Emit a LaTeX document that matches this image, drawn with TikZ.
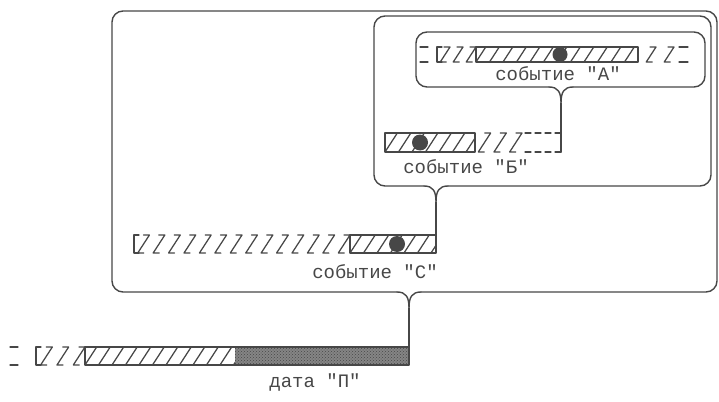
\documentclass[tikz,border=0pt]{standalone}
\usepackage{fontspec}
\setmonofont{Liberation Mono}
\usetikzlibrary{positioning, patterns}
\definecolor{ink}{gray}{0.28}
\definecolor{stip}{gray}{0.52}

% slashes inside a solid bar: x1, x2, top, bottom
\newcommand{\hatch}[4]{%
  \begin{scope}
    \clip (#1,#3) rectangle (#2,#4);
    \pgfmathtruncatemacro\hn{(#2-#1)/13.5+1}
    \foreach \k in {-1,...,\hn}
      \draw[bar] ({#1+\k*13.5},#4) -- ({#1+\k*13.5+0.65*(#4-#3)},#3);
  \end{scope}}
% broken slashes of an uncertain stretch: x1, x2, top, bottom
\newcommand{\dashhatch}[4]{%
  \pgfmathtruncatemacro\zn{round((#2-#1)/15)}
  \foreach \k in {1,...,\zn}{
    \pgfmathsetmacro\zx{#1+\k*(#2-#1)/\zn}
    \draw[bar] (\zx-6,#3) -- (\zx,#3) -- ({\zx-0.65*(#4-#3)},#4) -- ({\zx-0.65*(#4-#3)+6},#4);
  }}
% open end of a bar: x, top, bottom
\newcommand{\bracket}[3]{\draw[bar] (#1+5,#2) -- (#1,#2) -- (#1,#3) -- (#1+5,#3);}
% rounded frame with a pointed tail: name, left, top, right, bottom, tail x
\newcommand{\callout}[6]{%
  \draw[box, rounded corners=11pt] (#6-12,#5) -- (#2,#5) -- (#2,#3) -- (#4,#3) -- (#4,#5) -- (#6+12,#5);
  \draw[box] (#6-12,#5) .. controls (#6-3,#5) and (#6,#5+5) .. (#6,#5+16)
    .. controls (#6,#5+5) and (#6+3,#5) .. (#6+12,#5);
  \coordinate (#1) at (#6,#5+16);}

\begin{document}
\begin{tikzpicture}[x=1pt, y=-1pt, line join=round, line cap=round,
  bar/.style={draw=ink, line width=1.25pt},
  box/.style={draw=ink, line width=1.4pt},
  lbl/.style={text=ink, font=\ttfamily\fontsize{19}{22}\selectfont, inner sep=0pt}]
\useasboundingbox (0,0) rectangle (719,401);

% event A
\draw[bar] (420,47) -- (428,47) (420,62) -- (428,62);
\bracket{437}{47}{62}
\dashhatch{437}{476}{47}{62}
\draw[bar] (476,47) rectangle (638,62);
\hatch{476}{638}{47}{62}
\fill[ink] (560,54.5) circle[radius=7.5];
\dashhatch{638}{674}{47}{62}
\draw[bar] (679,47) -- (688,47) (679,62) -- (688,62);
\node[lbl] (lblA) at (558,74) {событие "А"};

% event B
\draw[bar] (385,133) rectangle (475,152);
\hatch{385}{475}{133}{152}
\fill[ink] (420,142.5) circle[radius=8];
\dashhatch{475}{522}{133}{152}
\draw[bar, dash pattern=on 6pt off 4pt] (525,133) -- (561,133) (525,152) -- (561,152);
\draw[bar] (556,133) -- (561,133) -- (561,152) -- (556,152);
\coordinate (barB-end) at (561,133);
\node[lbl] (lblB) at (466,167) {событие "Б"};

% event C
\bracket{134}{235}{253}
\dashhatch{134}{350}{235}{253}
\draw[bar] (350,235) rectangle (436,253);
\hatch{350}{436}{235}{253}
\fill[ink] (397,244) circle[radius=8];
\coordinate (barC-end) at (436,235);
\node[lbl] (lblC) at (375,272) {событие "С"};

% date P
\draw[bar] (10,347) -- (18,347) (10,365) -- (18,365);
\bracket{36}{347}{365}
\dashhatch{36}{85}{347}{365}
\fill[stip] (235,347) rectangle (409,365);
\fill[pattern=crosshatch dots, pattern color=ink] (235,347) rectangle (409,365);
\draw[bar] (85,347) rectangle (409,365);
\hatch{85}{235}{347}{365}
\coordinate (barP-end) at (409,347);
\node[lbl] (lblP) at (315,383) {дата "П"};

% frames
\callout{tipO}{112}{11}{717}{292}{409}
\callout{tipB}{374}{16}{711}{186}{436}
\callout{tipA}{416}{32}{705}{87}{561}
\draw[box] (tipO) -- (barP-end);
\draw[box] (tipB) -- (barC-end);
\draw[box] (tipA) -- (barB-end);
\end{tikzpicture}
\end{document}
